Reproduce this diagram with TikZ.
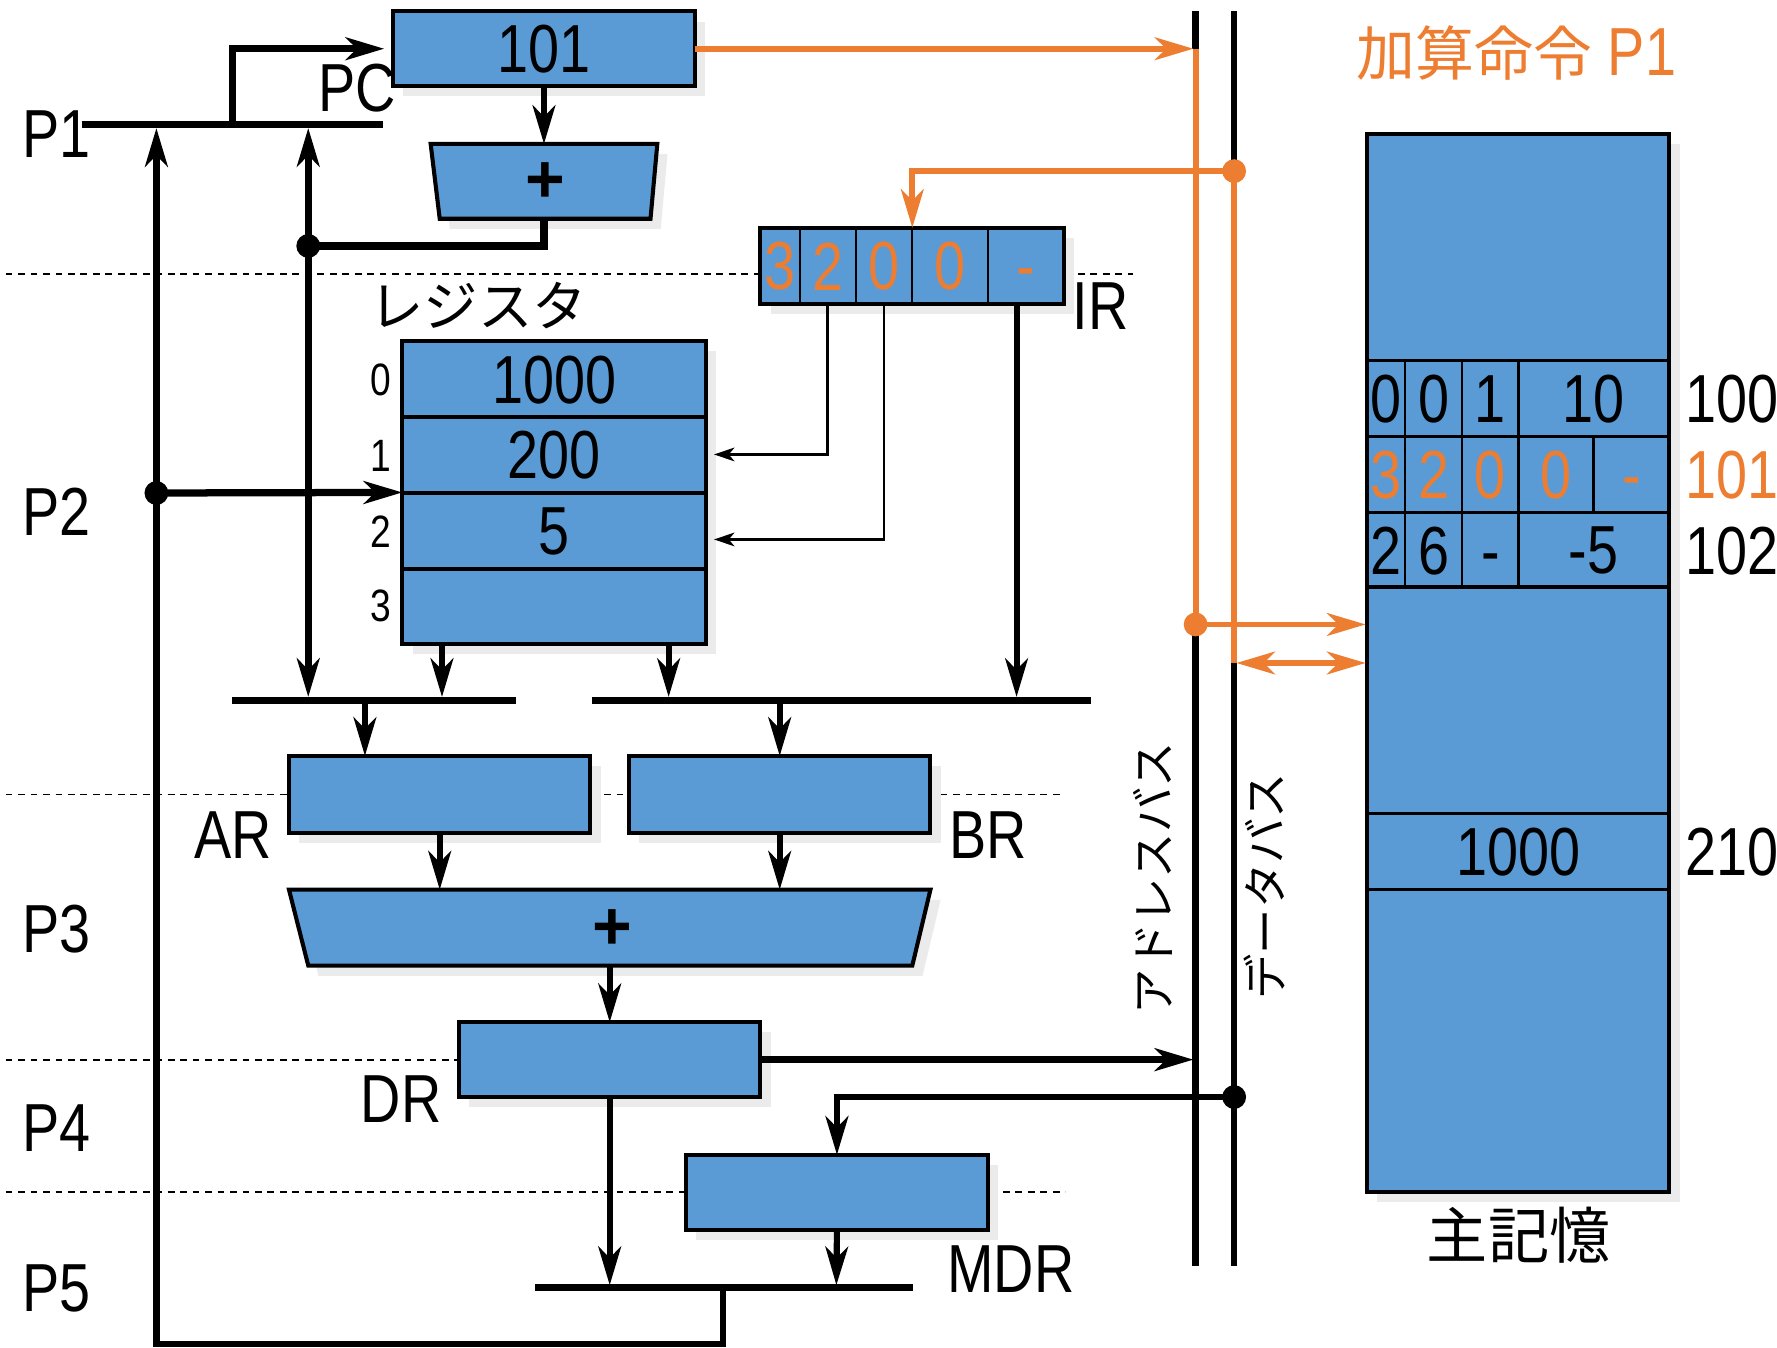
\documentclass[tikz,border=0pt]{standalone}
\usepackage{fontspec}
\setmainfont{Liberation Sans}[FakeStretch=0.82]
\newfontfamily\jpfont{Noto Sans CJK JP}
\newfontfamily\plusfont{Liberation Sans}
\usetikzlibrary{arrows.meta,calc}
\definecolor{boxblue}{HTML}{5B9BD5}
\definecolor{orng}{HTML}{ED7D31}
\definecolor{shd}{HTML}{EBEBEB}
\newcommand\drawreg[5]{%
  \fill[shd] ({#2+9},{#3+9}) rectangle ({#4+9},{#5+9});
  \node[regbox, minimum width={(#4-#2)*0.5pt}, minimum height={(#5-#3)*0.5pt}] (#1) at ({(#2+#4)/2},{(#3+#5)/2}) {};
}
\begin{document}
\begin{tikzpicture}[x=0.5pt,y=-0.5pt,
  regbox/.style={draw=black, line width=1.8pt, fill=boxblue, inner sep=0pt, outer sep=0pt},
  lbl/.style={inner sep=0pt, font=\fontsize{30}{34}\selectfont},
  olbl/.style={lbl, text=orng},
  idx/.style={inner sep=0pt, font=\fontsize{20}{24}\selectfont},
  pls/.style={inner sep=0pt, font=\plusfont\bfseries\fontsize{30}{30}\selectfont},
  thickln/.style={line width=3.2pt},
  busln/.style={line width=2.9pt},
  medln/.style={line width=2.7pt},
  thinln/.style={line width=1.3pt},
  cellln/.style={line width=1pt},
  rowln/.style={line width=1.5pt},
  sepline/.style={line width=0.8pt, dash pattern=on 3pt off 2.5pt},
  arrB/.style={-{Stealth[length=17pt,width=10pt,inset=5pt]}},
  arrBB/.style={{Stealth[length=17pt,width=10pt,inset=5pt]}-{Stealth[length=17pt,width=10pt,inset=5pt]}},
  arrS/.style={-{Stealth[length=9pt,width=6pt,inset=2.5pt]}},
  dotB/.style={circle, fill=black, inner sep=0pt, minimum size=10.5pt},
  dotO/.style={circle, fill=orng, inner sep=0pt, minimum size=10.5pt},
  orln/.style={draw=orng, line width=2.6pt},
  line join=miter
]
\useasboundingbox (0,0) rectangle (1568,1189);

% dashed phase separators
\draw[sepline] (5,242) -- (670,242);
\draw[sepline] (940,242) -- (1000,242);
\draw[sepline] (5,701) -- (938,701);
\draw[sepline] (5,935) -- (405,935);
\draw[sepline] (5,1052) -- (940,1052);

% boxes
\drawreg{pc}{347}{10}{613}{76}
\drawreg{regs}{355}{301}{623}{568}
\drawreg{ir}{671}{201}{939}{268}
\drawreg{ar}{255}{667}{521}{735}
\drawreg{br}{555}{667}{821}{735}
\drawreg{dr}{405}{902}{671}{968}
\drawreg{mdr}{605}{1019}{872}{1085}
\drawreg{mem}{1206}{118}{1473}{1052}

% adders
\fill[shd] (389,136) -- (589,136) -- (583,202) -- (397,202) -- cycle;
\filldraw[fill=boxblue, draw=black, line width=1.8pt] (380,127) -- (580,127) -- (574,193) -- (388,193) -- cycle;
\fill[shd] (264,794) -- (830,794) -- (814,861) -- (281,861) -- cycle;
\filldraw[fill=boxblue, draw=black, line width=1.8pt] (255,785) -- (821,785) -- (805,852) -- (272,852) -- cycle;
\node[pls] (plus1) at (481,161) {+};
\node[pls] (plus2) at (540,820) {+};

% register rows
\draw[rowln] (355,368) -- (623,368);
\draw[rowln] (355,435) -- (623,435);
\draw[rowln] (355,502) -- (623,502);

% IR cells
\foreach \xx in {706,755,805,872} \draw[cellln] (\xx,201) -- (\xx,268);

% memory rows and cells
\foreach \yy in {318,385,452,518,718,785} \draw[rowln] (1206,\yy) -- (1473,\yy);
\foreach \xx in {1240,1290,1340} \draw[cellln] (\xx,318) -- (\xx,518);
\draw[cellln] (1406,385) -- (1406,452);

% texts
\node[lbl] (t101) at (pc) {101};
\node[lbl] (tPC) at (315,78) {PC};
\node[lbl] (tP1) at (50,118) {P1};
\node[lbl] (tP2) at (50,452) {P2};
\node[lbl] (tP3) at (50,820) {P3};
\node[lbl] (tP4) at (50,995) {P4};
\node[lbl] (tP5) at (50,1137) {P5};
\node[lbl] (tIR) at (971,270) {IR};
\node[lbl] (tAR) at (206,737) {AR};
\node[lbl] (tBR) at (872,737) {BR};
\node[lbl] (tDR) at (354,970) {DR};
\node[lbl] (tMDR) at (892,1120) {MDR};
\node[inner sep=0pt, font=\jpfont\fontsize{24}{28}\selectfont] (treg) at (422,270) {レジスタ};
\node[lbl] (r0) at (489,335) {1000};
\node[lbl] (r1) at (489,402) {200};
\node[lbl] (r2) at (489,469) {5};
\node[idx] (i0) at (336,335) {0};
\node[idx] (i1) at (336,402) {1};
\node[idx] (i2) at (336,469) {2};
\node[idx] (i3) at (336,535) {3};
\node[olbl] (ir1t) at (688,235) {3};
\node[olbl] (ir2t) at (731,235) {2};
\node[olbl] (ir3t) at (780,235) {0};
\node[olbl] (ir4t) at (838,235) {0};
\node[olbl] (ir5t) at (905,235) {\vphantom{0}-};
\node[lbl] (m00) at (1223,352) {0};
\node[lbl] (m01) at (1265,352) {0};
\node[lbl] (m02) at (1315,352) {1};
\node[lbl] (m03) at (1406,352) {10};
\node[olbl] (m10) at (1223,419) {3};
\node[olbl] (m11) at (1265,419) {2};
\node[olbl] (m12) at (1315,419) {0};
\node[olbl] (m13) at (1373,419) {0};
\node[olbl] (m14) at (1440,419) {\vphantom{0}-};
\node[lbl] (m20) at (1223,486) {2};
\node[lbl] (m21) at (1265,486) {6};
\node[lbl] (m22) at (1315,486) {\vphantom{0}-};
\node[lbl] (m23) at (1406,486) {-5};
\node[lbl] (m30) at (1340,752) {1000};
\node[lbl] (a100) at (1528,352) {100};
\node[olbl] (a101) at (1528,419) {101};
\node[lbl] (a102) at (1528,486) {102};
\node[lbl] (a210) at (1528,752) {210};
\node[inner sep=0pt, font=\jpfont\fontsize{27}{30}\selectfont] (tmem) at (1340,1090) {主記憶};
\node[inner sep=0pt, text=orng, font=\fontsize{30}{34}\selectfont] (title) at (1338,47) {{\jpfont\fontsize{26}{30}\selectfont 加算命令} P1};
\node[inner sep=0pt, rotate=90, font=\jpfont\fontsize{20}{22}\selectfont] (abus) at (1017,775) {アドレスバス};
\node[inner sep=0pt, rotate=90, font=\jpfont\fontsize{20}{22}\selectfont] (dbus) at (1116,782) {データバス};

% coordinates
\coordinate (p1L) at (72,110);
\coordinate (p1R) at (338,110);
\coordinate (j205) at (205,110);
\coordinate (add1top) at (480,127);
\coordinate (add1bot) at (480,193);
\coordinate (dA) at (272,217);
\coordinate (v272t) at (272,113);
\coordinate (v272b) at (272,615);
\coordinate (p5j) at (638,1136);
\coordinate (lc) at (138,1186);
\coordinate (p1j) at (138,113);
\coordinate (dP2) at (138,435);
\coordinate (irA) at (730,268);
\coordinate (rin1) at (630,401);
\coordinate (irB) at (780,268);
\coordinate (rin2) at (630,476);
\coordinate (irC) at (897,268);
\coordinate (busC) at (897,615);
\coordinate (ro1) at (390,568);
\coordinate (bo1) at (390,615);
\coordinate (ro2) at (590,568);
\coordinate (bo2) at (590,615);
\coordinate (bLa) at (205,618);
\coordinate (bLb) at (455,618);
\coordinate (bRa) at (522,618);
\coordinate (bRb) at (963,618);
\coordinate (bL1) at (322,620);
\coordinate (arIn) at (322,667);
\coordinate (bR1) at (688,620);
\coordinate (aluA) at (388,785);
\coordinate (aluB) at (688,785);
\coordinate (aluO) at (538,852);
\coordinate (aDR) at (1053,935);
\coordinate (p5a) at (472,1136);
\coordinate (p5b) at (806,1136);
\coordinate (p5in1) at (538,1134);
\coordinate (p5in2) at (738,1134);
\coordinate (dD) at (1089,968);
\coordinate (aTop) at (1055,10);
\coordinate (aPC) at (1055,43);
\coordinate (aPCt) at (1053,43);
\coordinate (dAddr) at (1055,551);
\coordinate (aBot) at (1055,1117);
\coordinate (dTop) at (1089,10);
\coordinate (dData) at (1089,151);
\coordinate (dMid) at (1089,585);
\coordinate (dMidR) at (1091,585);
\coordinate (dBot) at (1089,1117);
\coordinate (irIn) at (805,201);
\coordinate (memA) at (1205,551);
\coordinate (memD) at (1205,585);

% black connectors
\draw[thickln] (p1L) -- (p1R);
\draw[thickln, arrB, shorten >=4pt] (j205) |- (pc.west);
\draw[medln, arrB] (pc.south) -- (add1top);
\draw[thickln] (add1bot) |- (dA);
\draw[busln, arrBB] (v272t) -- (v272b);
\draw[busln, arrB] (p5j) |- (lc) -- (p1j);
\draw[thickln, arrB] (dP2) -- (regs.west);
\draw[thinln, arrS] (irA) |- (rin1);
\draw[thinln, arrS] (irB) |- (rin2);
\draw[medln, arrB] (irC) -- (busC);
\draw[medln, arrB] (ro1) -- (bo1);
\draw[medln, arrB] (ro2) -- (bo2);
\draw[thickln] (bLa) -- (bLb);
\draw[thickln] (bRa) -- (bRb);
\draw[medln, arrB] (bL1) -- (arIn);
\draw[medln, arrB] (bR1) -- (br.north);
\draw[medln, arrB] (ar.south) -- (aluA);
\draw[medln, arrB] (br.south) -- (aluB);
\draw[medln, arrB] (aluO) -- (dr.north);
\draw[thickln, arrB] (dr.east) -- (aDR);
\draw[medln, arrB] (dr.south) -- (p5in1);
\draw[busln, arrB] (dD) -| (mdr.north);
\draw[medln, arrB] (mdr.south) -- (p5in2);
\draw[thickln] (p5a) -- (p5b);

% buses
\draw[busln] (aTop) -- (aPC);
\draw[busln] (dAddr) -- (aBot);
\draw[busln] (dTop) -- (dData);
\draw[busln] (dMid) -- (dBot);

% orange paths
\draw[orln, arrB] (pc.east) -- (aPCt);
\draw[orln] (aPC) -- (dAddr);
\draw[orln] (dData) -- (dMid);
\draw[orln, arrB] (dData) -| (irIn);
\draw[orln, arrB] (dAddr) -- (memA);
\draw[orln, arrBB] (dMidR) -- (memD);

% dots
\node[dotB] (dotA) at (dA) {};
\node[dotB] (dotP2) at (dP2) {};
\node[dotB] (dotD) at (dD) {};
\node[dotO] (dotData) at (dData) {};
\node[dotO] (dotAddr) at (dAddr) {};
\end{tikzpicture}
\end{document}
